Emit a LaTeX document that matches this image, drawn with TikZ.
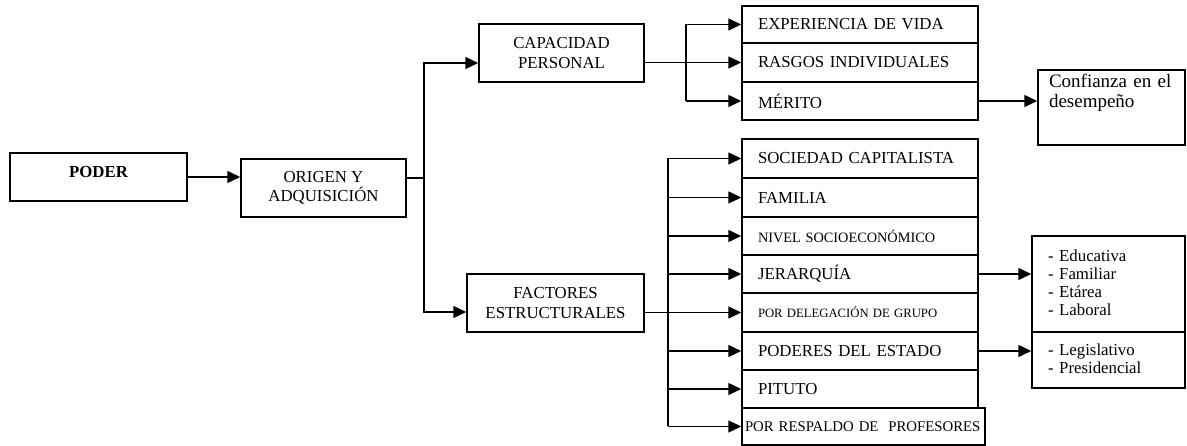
\documentclass[tikz,border=0pt]{standalone}
\usepackage{fontspec}
\setmainfont{Liberation Serif}
\usetikzlibrary{arrows.meta}

\tikzset{
  box/.style={draw, line width=1.5pt, inner sep=0pt, align=center,
    font=\fontsize{16.8}{19.3}\selectfont},
  row/.style={box, align=left, text width=204pt, inner xsep=16pt},
  list/.style={box, align=left, text width=121pt, inner xsep=16pt,
    font=\fontsize{16.8}{18}\selectfont},
  wire/.style={line width=1.5pt},
  link/.style={wire, -{Triangle[length=13pt, width=12pt]}},
}

\begin{document}
\begin{tikzpicture}[x=1pt, y=-1pt]
   % Sizes
   \pgfmathsetmacro{\rowx}{860}
   \pgfmathsetmacro{\trunkx}{424}
   \pgfmathsetmacro{\busx}{686}
   \pgfmathsetmacro{\busy}{668}
   \useasboundingbox (0,0) rectangle (1187,446);

   % main boxes
   \node[box, minimum width=177pt, minimum height=48pt, text height=12pt, text depth=10.8pt,
     font=\fontsize{16.8}{19.3}\selectfont\bfseries] (poder) at (98.5,177) {PODER};
   \node[box, minimum width=165pt, minimum height=58pt] (origen) at (323.5,188) {ORIGEN Y\\ADQUISICIÓN};
   \node[box, minimum width=165pt, minimum height=58pt] (capacidad) at (561.5,53) {CAPACIDAD\\PERSONAL};
   \node[box, minimum width=177pt, minimum height=58pt] (factores) at (555.5,303) {FACTORES\\ESTRUCTURALES};

   % personal capacity rows
   \node[row, minimum height=37pt] (experiencia) at (\rowx,24.5) {EXPERIENCIA DE VIDA};
   \node[row, minimum height=39pt] (rasgos) at (\rowx,62.5) {RASGOS INDIVIDUALES};
   \node[row, minimum height=38pt] (merito) at (\rowx,101) {MÉRITO};

   % structural factor rows
   \node[row, minimum height=39pt] (sociedad) at (\rowx,158.5) {SOCIEDAD CAPITALISTA};
   \node[row, minimum height=39pt] (familia) at (\rowx,197.5) {FAMILIA};
   \node[row, minimum height=38pt, font=\fontsize{14.3}{16}\selectfont] (nivel) at (\rowx,236) {NIVEL SOCIOECONÓMICO};
   \node[row, minimum height=38pt] (jerarquia) at (\rowx,274) {JERARQUÍA};
   \node[row, minimum height=39pt, font=\fontsize{12.7}{14}\selectfont] (delegacion) at (\rowx,312.5) {POR DELEGACIÓN DE GRUPO};
   \node[row, minimum height=38pt] (poderes) at (\rowx,351) {PODERES DEL ESTADO};
   \node[row, minimum height=38pt] (pituto) at (\rowx,389) {PITUTO};
   \node[row, minimum height=37pt, text width=237pt, inner xsep=3pt,
     font=\fontsize{14.8}{16}\selectfont] (respaldo) at (863.5,426.5) {POR RESPALDO DE\ \ PROFESORES};

   % right boxes
   \node[box, align=left, text width=125pt, inner xsep=11pt, text height=18pt, text depth=57pt,
     font=\fontsize{19}{20}\selectfont] (confianza) at (1111.5,107.5) {Confianza en el\\desempeño};
   \node[list, text height=25.6pt, text depth=70.4pt] (jerarquias) at (1108.5,284)
     {- Educativa\\- Familiar\\- Etárea\\- Laboral};
   \node[list, text height=23.6pt, text depth=32.4pt] (estado) at (1108.5,360)
     {- Legislativo\\- Presidencial};

   % draw diagram
   \coordinate (split) at (\trunkx,178);
   \coordinate (busa) at (\busx,0);
   \coordinate (busb) at (\busy,0);

   \draw[link] (poder.east) -- (poder.east -| origen.west);
   \draw[wire] (origen.east |- split) -- (split);
   \draw[link] (split) |- ([yshift=-10pt]capacidad.west);
   \draw[link] (split) |- ([yshift=-9pt]factores.west);

   \draw[wire] (capacidad.east |- rasgos.west) -- (busa |- rasgos.west);
   \draw[wire] (busa |- experiencia.west) -- (busa |- merito.west);
   \draw[link] (busa |- experiencia.west) -- (experiencia.west);
   \draw[link] (busa |- rasgos.west) -- (rasgos.west);
   \draw[link] (busa |- merito.west) -- (merito.west);

   \draw[wire] (factores.east |- delegacion.west) -- (busb |- delegacion.west);
   \draw[wire] (busb |- sociedad.west) -- (busb |- respaldo.west);
   \draw[link] (busb |- sociedad.west) -- (sociedad.west);
   \draw[link] (busb |- familia.west) -- (familia.west);
   \draw[link] (busb |- nivel.west) -- (nivel.west);
   \draw[link] (busb |- jerarquia.west) -- (jerarquia.west);
   \draw[link] (busb |- delegacion.west) -- (delegacion.west);
   \draw[link] (busb |- poderes.west) -- (poderes.west);
   \draw[link] (busb |- pituto.west) -- (pituto.west);
   \draw[link] (busb |- respaldo.west) -- (respaldo.west);

   \draw[link] (merito.east) -- (merito.east -| confianza.west);
   \draw[link] (jerarquia.east) -- (jerarquia.east -| jerarquias.west);
   \draw[link] (poderes.east) -- (poderes.east -| estado.west);
\end{tikzpicture}
\end{document}
